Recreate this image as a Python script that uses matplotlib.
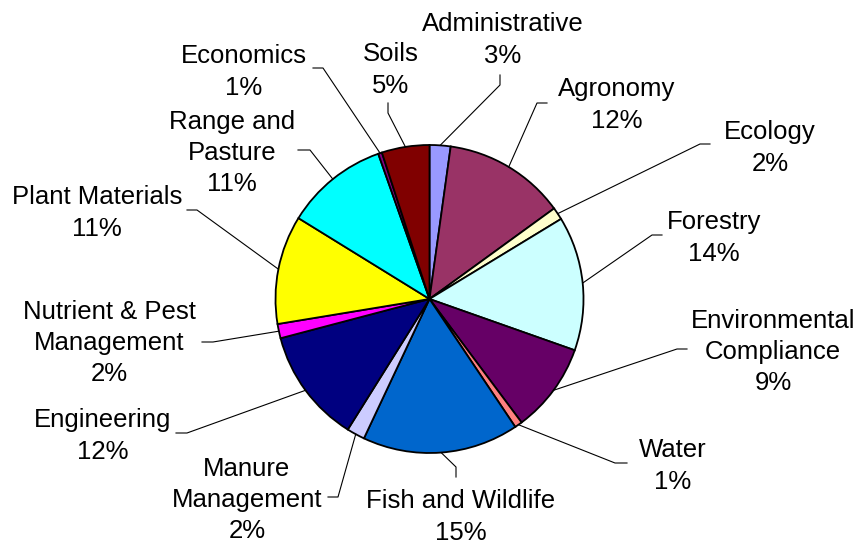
import numpy as np
import matplotlib
matplotlib.use("Agg")
import matplotlib.pyplot as plt

# data (wedge shares and the printed percent labels)
categories = ["Administrative", "Agronomy", "Ecology", "Forestry",
              "Environmental\nCompliance", "Water", "Fish and Wildlife",
              "Manure\nManagement", "Engineering", "Nutrient & Pest\nManagement",
              "Plant Materials", "Range and\nPasture", "Economics", "Soils"]
shares = [2.2, 12.8, 1.3, 14.1, 9.4, 0.8, 16.4, 1.9, 12.0, 1.5, 11.4, 10.8, 0.4, 5.0]
pct_labels = [3, 12, 2, 14, 9, 1, 15, 2, 12, 2, 11, 11, 1, 5]
colors = ["#9999FF", "#993366", "#FFFFCC", "#CCFFFF", "#660066", "#FF8080",
          "#0066CC", "#CCCCFF", "#000080", "#FF00FF", "#FFFF00", "#00FFFF",
          "#800080", "#800000"]

# label layout in pixels (y down): text centre, elbow of leader, end of leader
W, H = 856, 550
layout = [
    ((503, 40), (500, 85), (500, 75)),
    ((617, 105), (537, 103), (547, 103)),
    ((770, 148), (700, 144), (710, 144)),
    ((714, 238), (652, 235), (662, 235)),
    ((773, 352), (677, 349), (687, 349)),
    ((673, 466), (615, 463), (627, 463)),
    ((461, 517), (456, 467), (456, 477)),
    ((247, 500), (338, 497), (328, 497)),
    ((103, 436), (187, 433), (176, 433)),
    ((109, 343), (213, 342), (202, 342)),
    ((97, 213), (197, 210), (187, 210)),
    ((232, 153), (310, 150), (298, 150)),
    ((244, 72), (323, 68), (313, 68)),
    ((391, 70), (388, 113), (388, 103)),
]

plt.rcParams["font.family"] = ["Liberation Sans", "DejaVu Sans"]

fig = plt.figure(figsize=(W / 100, H / 100), dpi=100)
ax = fig.add_axes([0, 0, 1, 1])

cx, cy, r = 429.5, H - 299, 154
wedges, _ = ax.pie(shares, colors=colors, startangle=90, counterclock=False,
                   center=(cx, cy), radius=r,
                   wedgeprops=dict(edgecolor="black", linewidth=1.3))

for w, name, pct, (txt, elbow, end) in zip(wedges, categories, pct_labels, layout):
    ang = np.deg2rad((w.theta1 + w.theta2) / 2)
    sx, sy = cx + r * np.cos(ang), cy + r * np.sin(ang)
    ax.plot([sx, elbow[0], end[0]], [sy, H - elbow[1], H - end[1]],
            color="black", linewidth=0.8)
    ax.text(txt[0], H - txt[1], f"{name}\n{pct}%", ha="center", va="center",
            multialignment="center", fontsize=18.5, linespacing=1.38)

ax.set_xlim(0, W)
ax.set_ylim(0, H)
ax.set_aspect("equal")
ax.axis("off")

fig.savefig("out.png", dpi=100)
